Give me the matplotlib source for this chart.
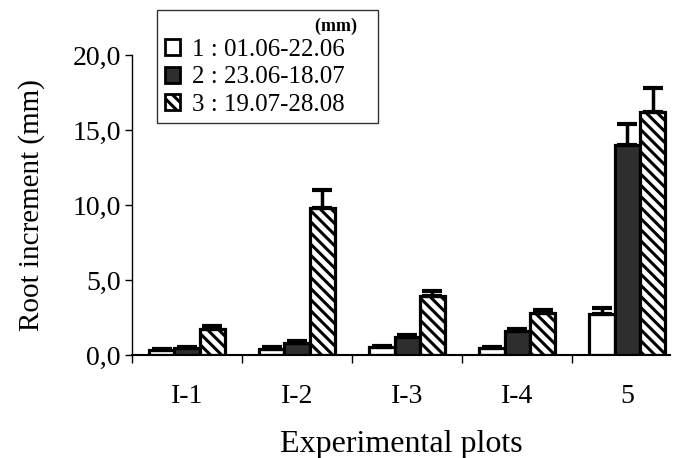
import numpy as np
import matplotlib.pyplot as plt
from matplotlib.patches import Patch
from matplotlib.ticker import FixedLocator

plt.rcParams['font.family'] = ['Liberation Serif', 'DejaVu Serif']
plt.rcParams['hatch.linewidth'] = 2.2

plots = ['I-1', 'I-2', 'I-3', 'I-4', '5']
periods = ['1 : 01.06-22.06', '2 : 23.06-18.07', '3 : 19.07-28.08']
p1 = [0.3, 0.4, 0.5, 0.45, 2.75]
p2 = [0.45, 0.8, 1.2, 1.6, 14.0]
p3 = [1.75, 9.8, 3.9, 2.8, 16.2]
e1 = [0.08, 0.1, 0.12, 0.1, 0.35]
e2 = [0.1, 0.12, 0.1, 0.15, 1.4]
e3 = [0.15, 1.2, 0.35, 0.2, 1.6]

fig = plt.figure(figsize=(6.73, 4.58), dpi=100)
ax = fig.add_axes([0.196, 0.225, 0.80, 0.655])

x = np.arange(len(plots))
w = 0.23
styles = [dict(facecolor='white', hatch=None),
          dict(facecolor='#2e2e2e', hatch=None),
          dict(facecolor='white', hatch='\\\\\\')]
for i, (vals, errs) in enumerate(zip([p1, p2, p3], [e1, e2, e3])):
    ax.bar(x + (i - 1) * w, vals, w, edgecolor='black', linewidth=2.3,
           yerr=[np.zeros(len(errs)), errs], capsize=7,
           error_kw=dict(elinewidth=2.5, capthick=3, ecolor='black'),
           **styles[i], zorder=2)

ax.set_xlim(-0.5, 4.39)
ax.set_ylim(0, 20)
ax.set_yticks([0, 5, 10, 15, 20])
ax.set_yticklabels(['0,0', '5,0', '10,0', '15,0', '20,0'])
ax.set_xticks(x)
ax.set_xticklabels(plots)
ax.xaxis.set_minor_locator(FixedLocator([-0.5, 0.5, 1.5, 2.5, 3.5]))
ax.tick_params(axis='x', which='major', length=0, pad=21, labelsize=20)
ax.tick_params(axis='x', which='minor', length=6, width=1, direction='out')
ax.tick_params(axis='y', length=5, width=1, direction='out', labelsize=20, pad=3)
for s in ['top', 'right']:
    ax.spines[s].set_visible(False)
ax.spines['left'].set_linewidth(1)
ax.spines['bottom'].set_linewidth(1.5)

ax.set_ylabel('Root increment (mm)', fontsize=21, labelpad=20)
ax.set_xlabel('Experimental plots', fontsize=23, labelpad=15)

handles = [Patch(facecolor=s['facecolor'], hatch=s['hatch'], edgecolor='black', linewidth=2)
           for s in styles]
leg = fig.legend(handles, periods, loc='upper left',
                 bbox_to_anchor=(157 / 673, 1 - 125 / 458, 221 / 673, 115 / 458),
                 mode='expand', fontsize=18, frameon=True, fancybox=False,
                 handlelength=0.6, handleheight=0.6, handletextpad=0.5,
                 borderpad=0.3, labelspacing=0.22, borderaxespad=0,
                 title='(mm)   ', alignment='right',
                 title_fontproperties={'weight': 'bold', 'size': 13})
leg.get_frame().set_edgecolor('black')
leg.get_frame().set_linewidth(1)
leg._legend_box.sep = 3

fig.savefig('out.png', dpi=100)
